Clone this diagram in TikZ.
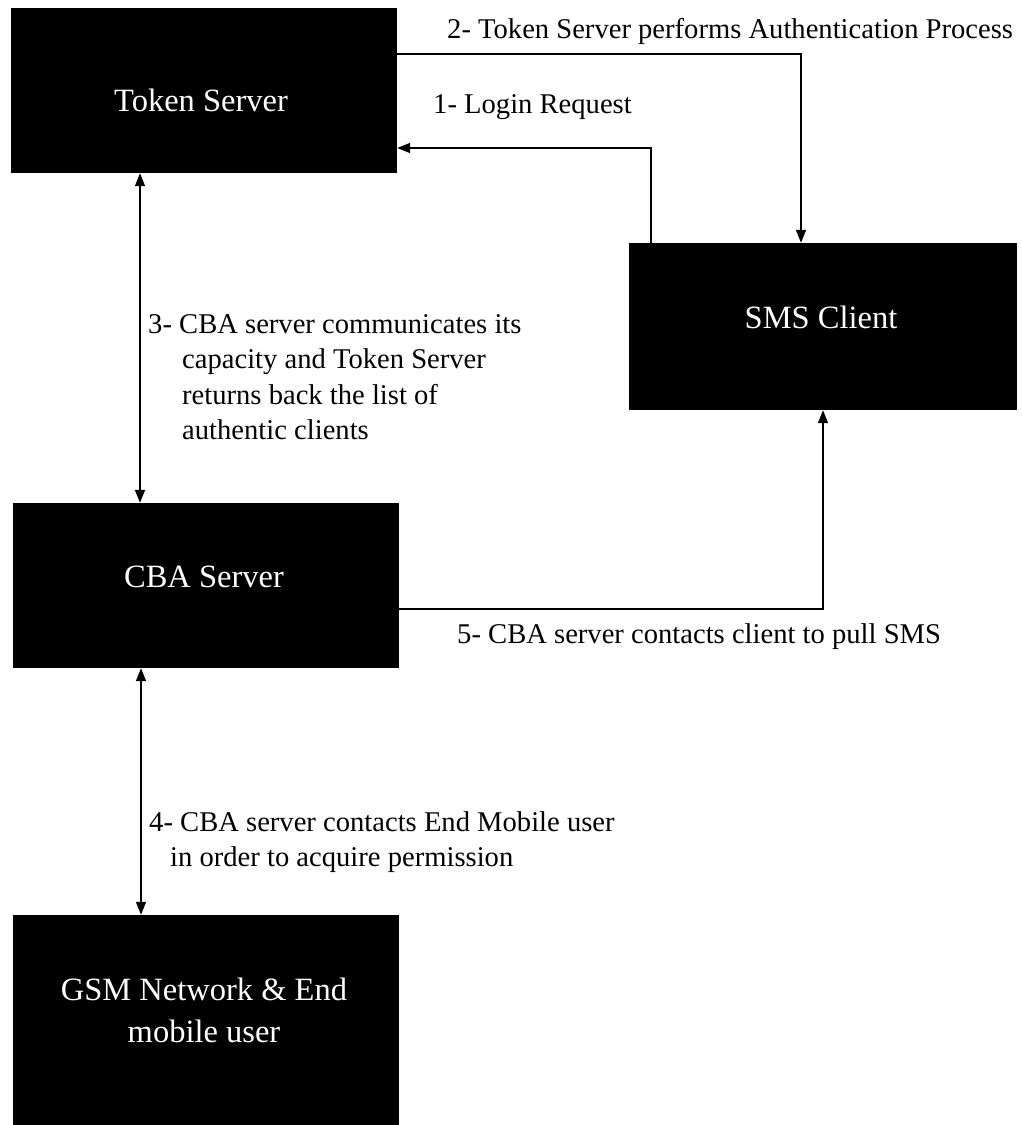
\documentclass[tikz,border=0pt]{standalone}
\usepackage{fontspec}
\setmainfont{Liberation Serif}
\usetikzlibrary{arrows.meta}
\begin{document}
\begin{tikzpicture}[x=1pt,y=-1pt,
  box/.style={fill=black, draw=none, inner sep=0pt},
  boxtext/.style={text=white, font=\fontsize{32.5}{42}\selectfont, align=center, inner sep=0pt},
  note/.style={font=\fontsize{28.6}{35.5}\selectfont, align=left, inner sep=0pt},
  tip/.tip={Triangle[length=13pt,width=10pt]},
  link/.style={line width=1.6pt, -tip},
  twoway/.style={line width=1.6pt, tip-tip}]
\useasboundingbox (0,0) rectangle (1021,1125);
\fill[white] (0,0) rectangle (1021,1125);

% black blocks
\node[box, minimum width=386pt, minimum height=165pt] (token) at (204,90.5) {};
\node[box, minimum width=388pt, minimum height=167pt] (sms) at (823,326.5) {};
\node[box, minimum width=386pt, minimum height=165pt] (cba) at (206,585.5) {};
\node[box, minimum width=386pt, minimum height=212pt] (gsm) at (206,1021) {};

% block captions
\node[boxtext, anchor=base] (tokentxt) at (201,111) {Token Server};
\node[boxtext, anchor=base] (smstxt) at (821,328) {SMS Client};
\node[boxtext, anchor=base] (cbatxt) at (204,587) {CBA Server};
\node[boxtext, anchor=north] (gsmtxt) at (204,977.5) {GSM Network \& End\\mobile user};

% step descriptions
\node[note, anchor=base west] (n2) at (447,38) {2- Token Server performs Authentication Process};
\node[note, anchor=base west] (n1) at (433,113) {1- Login Request};
\node[note, anchor=north west] (n3) at (148,314) {3- CBA server communicates its\\
  \hspace*{34pt}capacity and Token Server\\
  \hspace*{34pt}returns back the list of\\
  \hspace*{34pt}authentic clients};
\node[note, anchor=north west] (n4) at (149,811) {4- CBA server contacts End Mobile user\\
  \hspace*{21pt}in order to acquire permission};
\node[note, anchor=base west] (n5) at (457,643) {5- CBA server contacts client to pull SMS};

% connectors
\draw[link] (token.east |- 0,54) -| (sms.north -| 801,0);
\draw[link] (sms.north -| 651,0) |- (token.east |- 0,148);
\draw[twoway] (token.south -| 140,0) -- (cba.north -| 140,0);
\draw[twoway] (cba.south -| 141,0) -- (gsm.north -| 141,0);
\draw[link] (cba.east |- 0,609) -| (sms.south);
\end{tikzpicture}
\end{document}
